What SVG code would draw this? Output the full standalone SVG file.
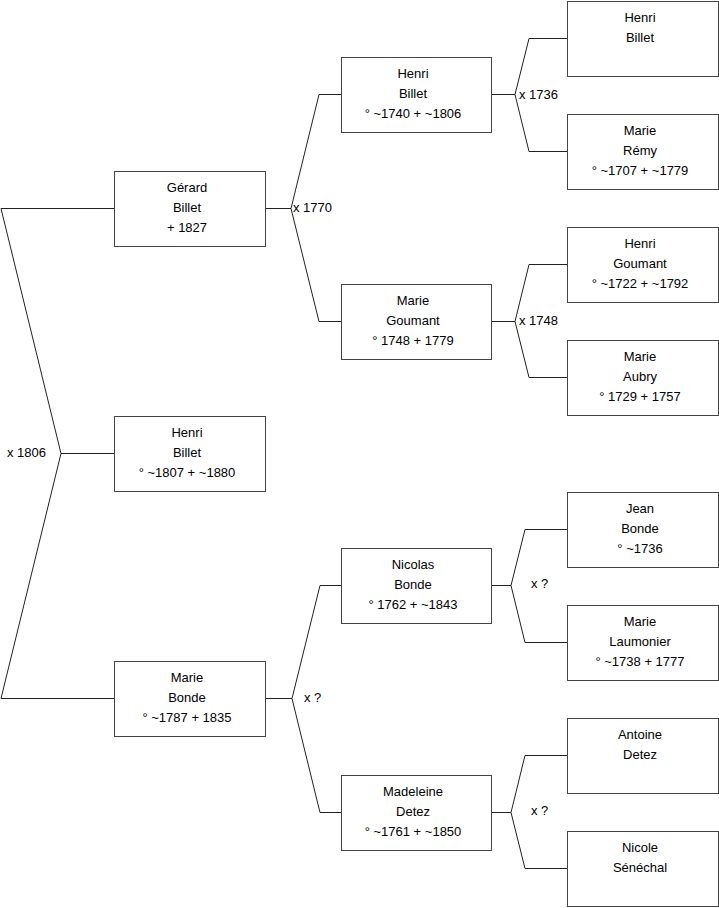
<svg xmlns="http://www.w3.org/2000/svg" width="719" height="908" viewBox="0 0 719 908">
<style>
rect.b{fill:#fff;stroke:#444;stroke-width:1}
text{font-family:"Liberation Sans",Arial,sans-serif;font-size:13px;fill:#000}
.c{text-anchor:middle}
.l path{fill:none;stroke:#222;stroke-width:1}
</style>
<rect width="719" height="908" fill="#fff"/>
<g class="l" id="connectors">
<path d="M114,208.5 H1 L61,453.5 L1,698.5 H114 M61,453.5 H114"/>
<path d="M265,208.5 H291 M341,94.5 H319 L291,208.5 L319,321.5 H341"/>
<path d="M491,94.5 H515 M567,38.5 H529 L515,94.5 L529,151.5 H567"/>
<path d="M491,321.5 H515 M567,264.5 H529 L515,321.5 L529,377.5 H567"/>
<path d="M265,698.5 H292 M341,585.5 H320 L292,698.5 L320,812.5 H341"/>
<path d="M491,585.5 H511 M567,529.5 H525 L511,585.5 L525,642.5 H567"/>
<path d="M491,812.5 H511 M567,755.5 H525 L511,812.5 L525,868.5 H567"/>
</g>
<g id="labels">
<text x="7" y="457">x 1806</text>
<text x="293" y="212">x 1770</text>
<text x="519" y="99">x 1736</text>
<text x="519" y="325">x 1748</text>
<text x="304" y="702">x ?</text>
<text x="531" y="588">x ?</text>
<text x="531" y="815">x ?</text>
</g>
<g id="gerard"><rect class="b" x="114.5" y="171.5" width="151" height="75"/><text class="c" x="187" y="191.5">Gérard</text><text class="c" x="187" y="211.5">Billet</text><text class="c" x="187" y="231.5">+ 1827</text></g>
<g id="henri1807"><rect class="b" x="114.5" y="416.5" width="151" height="75"/><text class="c" x="187" y="436.5">Henri</text><text class="c" x="187" y="456.5">Billet</text><text class="c" x="187" y="476.5">° ~1807 + ~1880</text></g>
<g id="mariebonde"><rect class="b" x="114.5" y="661.5" width="151" height="75"/><text class="c" x="187" y="681.5">Marie</text><text class="c" x="187" y="701.5">Bonde</text><text class="c" x="187" y="721.5">° ~1787 + 1835</text></g>
<g id="henri1740"><rect class="b" x="341.5" y="57.5" width="150" height="75"/><text class="c" x="413" y="77.5">Henri</text><text class="c" x="413" y="97.5">Billet</text><text class="c" x="413" y="117.5">° ~1740 + ~1806</text></g>
<g id="mariegoumant"><rect class="b" x="341.5" y="284.5" width="150" height="75"/><text class="c" x="413" y="304.5">Marie</text><text class="c" x="413" y="324.5">Goumant</text><text class="c" x="413" y="344.5">° 1748 + 1779</text></g>
<g id="nicolas"><rect class="b" x="341.5" y="548.5" width="150" height="75"/><text class="c" x="413" y="568.5">Nicolas</text><text class="c" x="413" y="588.5">Bonde</text><text class="c" x="413" y="608.5">° 1762 + ~1843</text></g>
<g id="madeleine"><rect class="b" x="341.5" y="775.5" width="150" height="75"/><text class="c" x="413" y="795.5">Madeleine</text><text class="c" x="413" y="815.5">Detez</text><text class="c" x="413" y="835.5">° ~1761 + ~1850</text></g>
<g id="henri"><rect class="b" x="567.5" y="1.5" width="151" height="75"/><text class="c" x="640" y="21.5">Henri</text><text class="c" x="640" y="41.5">Billet</text></g>
<g id="marieremy"><rect class="b" x="567.5" y="114.5" width="151" height="75"/><text class="c" x="640" y="134.5">Marie</text><text class="c" x="640" y="154.5">Rémy</text><text class="c" x="640" y="174.5">° ~1707 + ~1779</text></g>
<g id="henrigoumant"><rect class="b" x="567.5" y="227.5" width="151" height="75"/><text class="c" x="640" y="247.5">Henri</text><text class="c" x="640" y="267.5">Goumant</text><text class="c" x="640" y="287.5">° ~1722 + ~1792</text></g>
<g id="marieaubry"><rect class="b" x="567.5" y="340.5" width="151" height="75"/><text class="c" x="640" y="360.5">Marie</text><text class="c" x="640" y="380.5">Aubry</text><text class="c" x="640" y="400.5">° 1729 + 1757</text></g>
<g id="jean"><rect class="b" x="567.5" y="492.5" width="151" height="75"/><text class="c" x="640" y="512.5">Jean</text><text class="c" x="640" y="532.5">Bonde</text><text class="c" x="640" y="552.5">° ~1736</text></g>
<g id="laumonier"><rect class="b" x="567.5" y="605.5" width="151" height="75"/><text class="c" x="640" y="625.5">Marie</text><text class="c" x="640" y="645.5">Laumonier</text><text class="c" x="640" y="665.5">° ~1738 + 1777</text></g>
<g id="antoine"><rect class="b" x="567.5" y="718.5" width="151" height="75"/><text class="c" x="640" y="738.5">Antoine</text><text class="c" x="640" y="758.5">Detez</text></g>
<g id="nicole"><rect class="b" x="567.5" y="831.5" width="151" height="75"/><text class="c" x="640" y="851.5">Nicole</text><text class="c" x="640" y="871.5">Sénéchal</text></g>
</svg>
